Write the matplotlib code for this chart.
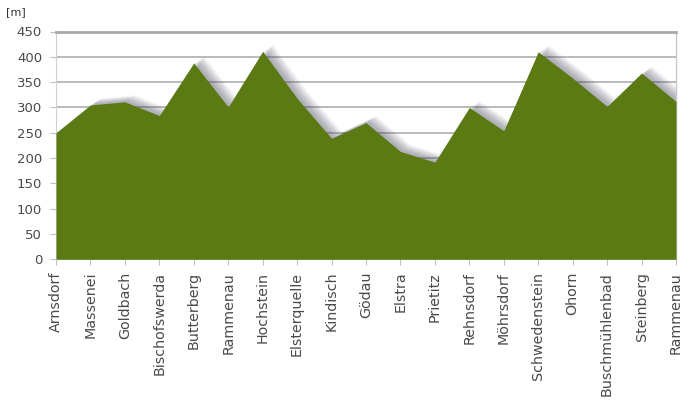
import matplotlib
matplotlib.use("Agg")
import matplotlib.pyplot as plt
import matplotlib.transforms as mtransforms
import numpy as np

categories = ["Arnsdorf", "Massenei", "Goldbach", "Bischofswerda", "Butterberg",
              "Rammenau", "Hochstein", "Elsterquelle", "Kindisch", "Gödau",
              "Elstra", "Prietitz", "Rehnsdorf", "Möhrsdorf", "Schwedenstein",
              "Ohorn", "Buschmühlenbad", "Steinberg", "Rammenau"]
heights = [250, 305, 311, 284, 388, 301, 411, 318, 239, 270,
           213, 192, 300, 254, 410, 358, 302, 368, 312]
y_ticks = [0, 50, 100, 150, 200, 250, 300, 350, 400, 450]

x = np.arange(len(categories))

fig = plt.figure(figsize=(6.8, 4.09), dpi=100)
ax = fig.add_axes([56/680, 1-259.3/409, (676-56)/680, (259.3-31.5)/409])

ax.set_xlim(0, len(categories)-1)
ax.set_ylim(0, 450)

# grid lines
for v in y_ticks[1:-1]:
    ax.axhline(v, color="#b4b4b4", lw=1.3, zorder=1)

# soft blurred shadow
for dx, dy in [(10, 7), (9, 6), (8, 5.5), (7, 5), (6, 4), (5, 3.5), (4, 3), (3, 2), (2, 1.5)]:
    tr = mtransforms.offset_copy(ax.transData, fig=fig, x=dx*0.72, y=dy*0.72, units="points")
    ax.fill_between(x, 0, heights, color="#44445a", alpha=0.055, lw=0, transform=tr, zorder=2)

ax.fill_between(x, 0, heights, color="#5b7a14", lw=0, zorder=3)

for s in ["left", "bottom"]:
    ax.spines[s].set_color("#d0d0d0")
ax.spines["top"].set_color("#a8a8a8")
ax.spines["top"].set_linewidth(2)
ax.spines["right"].set_color("#c8c8c8")
ax.spines["right"].set_linewidth(1)

ax.set_yticks(y_ticks)
ax.set_yticklabels([str(v) for v in y_ticks], fontsize=9.5, color="#4a4a4a",
                   family="DejaVu Sans")
ax.tick_params(axis="y", length=4, color="#c0c0c0", pad=6)
ax.set_xticks(x)
ax.set_xticklabels(categories, rotation=90, fontsize=10.3, color="#4a4a4a",
                   family="DejaVu Sans")
ax.tick_params(axis="x", length=4, color="#c0c0c0", pad=5)

fig.text(6/680, 1-12/409, "[m]", fontsize=8, color="#333333", va="center", ha="left")

fig.savefig("out.png", dpi=100)
